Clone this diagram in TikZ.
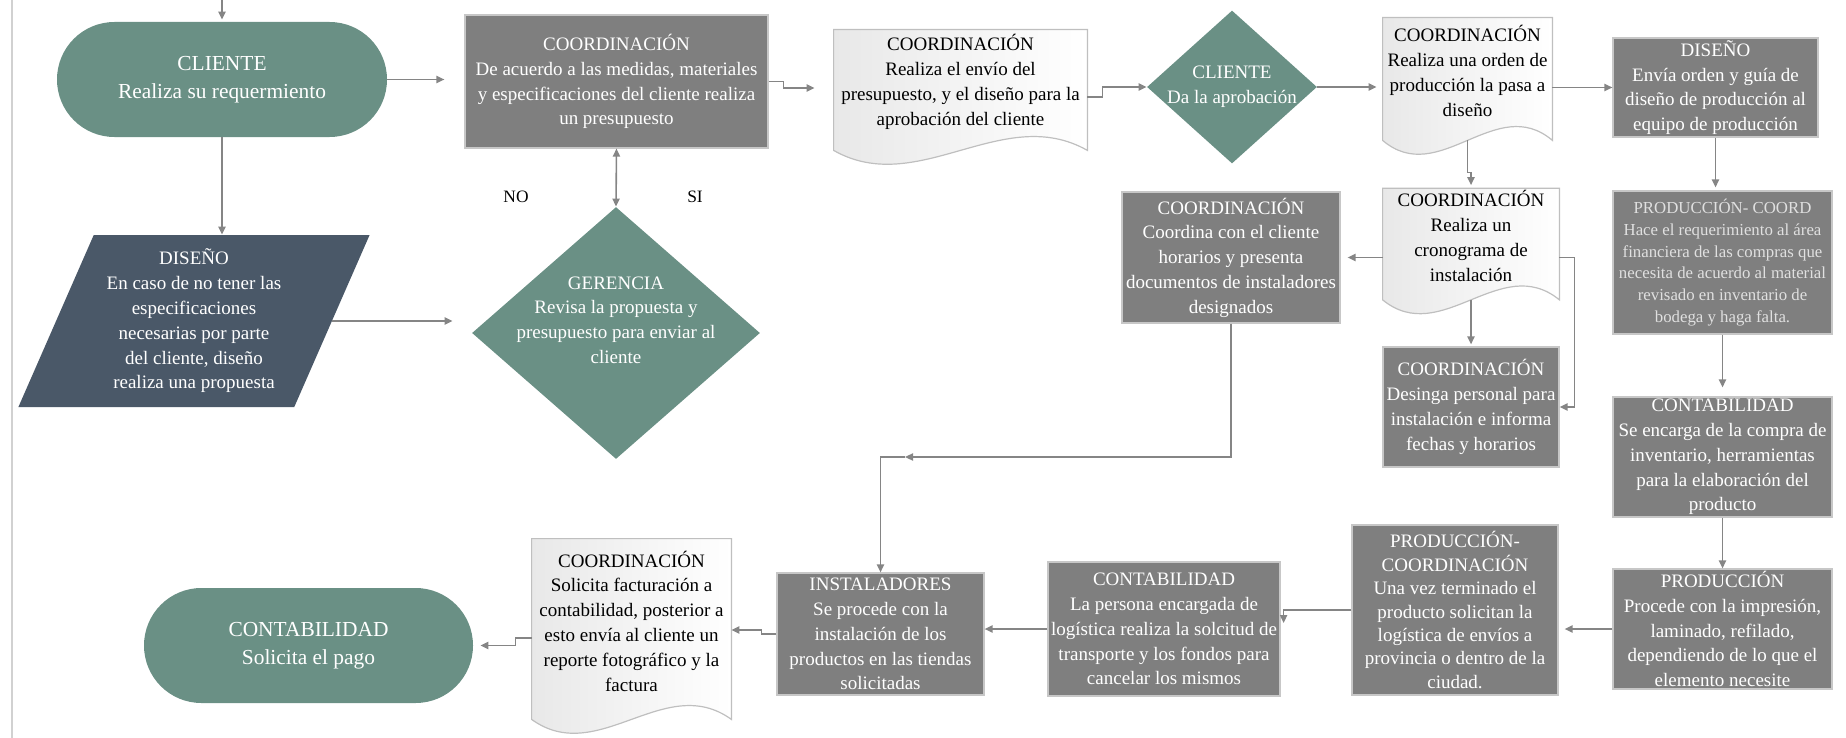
\documentclass[tikz,border=0pt]{standalone}
\usepackage{fontspec}
\setmainfont{Liberation Serif}
\usepackage{tikz}
\usetikzlibrary{positioning, arrows.meta, shapes.geometric, calc, backgrounds}

\definecolor{verde}{HTML}{6A9085}
\definecolor{pizarra}{HTML}{4A5868}
\definecolor{gris}{HTML}{7F7F7F}
\definecolor{linea}{HTML}{858585}

\begin{document}
\begin{tikzpicture}[x=0.5pt, y=-0.5pt,
    txt/.style={font=\fontsize{9.5}{12.4}\selectfont, align=center},
    terminal/.style={rectangle, rounded corners=28.7pt, fill=verde, text=white, align=center,
        font=\fontsize{10.7}{14}\selectfont, minimum width=165pt, minimum height=57.5pt},
    datos/.style={trapezium, trapezium left angle=65.6, trapezium right angle=114.4,
        trapezium stretches=true, fill=pizarra, text=white, txt, inner sep=1pt},
    proceso/.style={rectangle, fill=gris, draw=black!22, line width=0.6pt, text=white, txt, inner sep=0pt},
    decision/.style={diamond, fill=verde, inner sep=0pt},
    dtext/.style={text=white, txt},
    documento/.style={rectangle, txt, inner sep=1pt},
    conn/.style={draw=linea, line width=0.8pt},
    arr/.style={conn, -{Triangle[length=4pt, width=3.6pt]}},
    darr/.style={conn, {Triangle[length=4pt, width=3.6pt]}-{Triangle[length=4pt, width=3.6pt]}},
    lbl/.style={font=\fontsize{8.7}{10}\selectfont}]

    \path[use as bounding box] (0,0) rectangle (1846,738);
    \draw[black!18, line width=0.6pt] (12,0) -- (12,738);

    % fila superior
    \node[terminal] (cli) at (222,79.5) {CLIENTE\\Realiza su requermiento};
    \node[datos, minimum width=176pt, minimum height=86pt] (dis) at (194,321) {DISEÑO\\En caso de no tener las\\especificaciones\\necesarias por parte\\del cliente, diseño\\realiza una propuesta};
    \node[proceso, minimum width=151.5pt, minimum height=66.5pt] (coo1) at (616.5,81.5) {COORDINACIÓN\\De acuerdo a las medidas, materiales\\y especificaciones del cliente realiza\\un presupuesto};
    \node[decision, minimum width=144pt, minimum height=126pt,
        label={[dtext, yshift=6.5pt]center:{GERENCIA\\Revisa la propuesta y\\presupuesto para enviar al\\cliente}}] (ger) at (616,333) {};
    \node[lbl] (no) at (516,197) {NO};
    \node[lbl] (si) at (695,197) {SI};
    \node[documento, minimum width=126.5pt, minimum height=52pt] (doc2) at (960.5,82) {COORDINACIÓN\\Realiza el envío del\\presupuesto, y el diseño para la\\aprobación del cliente};
    \node[decision, minimum width=85pt, minimum height=76.5pt,
        label={[dtext]center:{CLIENTE\\Da la aprobación}}] (cdia) at (1232,87) {};
    \node[documento, minimum width=84.5pt, minimum height=53pt] (doc3) at (1467.5,71) {COORDINACIÓN\\Realiza una orden de\\producción la pasa a\\diseño};
    \node[proceso, minimum width=102.5pt, minimum height=49.5pt] (dis2) at (1715.5,87.5) {DISEÑO\\Envía orden y guía de\\diseño de producción al\\equipo de producción};

    % columna derecha
    \node[proceso, minimum width=109.5pt, minimum height=71.5pt, font=\fontsize{8.4}{10.9}\selectfont, text=black!12] (prc) at (1722.5,262.5) {PRODUCCIÓN- COORD\\Hace el requerimiento al área\\financiera de las compras que\\necesita de acuerdo al material\\revisado en inventario de\\bodega y haga falta.};
    \node[proceso, minimum width=109.5pt, minimum height=60pt, on grid, below=97.25pt of prc] (ct2) {CONTABILIDAD\\Se encarga de la compra de\\inventario, herramientas\\para la elaboración del\\producto};
    \node[proceso, minimum width=109.5pt, minimum height=60pt, on grid, below=86pt of ct2] (prod) {PRODUCCIÓN\\Procede con la impresión,\\laminado, refilado,\\dependiendo de lo que el\\elemento necesite};

    % centro
    \node[documento, minimum width=88pt, minimum height=45pt] (crono) at (1471,236) {COORDINACIÓN\\Realiza un\\cronograma de\\instalación};
    \node[proceso, minimum width=109pt, minimum height=65.5pt] (coo5) at (1231,257.5) {COORDINACIÓN\\Coordina con el cliente\\horarios y presenta\\documentos de instaladores\\designados};
    \node[proceso, minimum width=88pt, minimum height=60pt, on grid, below=85.5pt of crono] (coo6) {COORDINACIÓN\\Desinga personal para\\instalación e informa\\fechas y horarios};

    % fila inferior
    \node[proceso, minimum width=103pt, minimum height=85pt, font=\fontsize{9.5}{11.7}\selectfont] (pc2) at (1455,610) {PRODUCCIÓN-\\COORDINACIÓN\\Una vez terminado el\\producto solicitan la\\logística de envíos a\\provincia o dentro de la\\ciudad.};
    \node[proceso, minimum width=116pt, minimum height=67pt] (ct3) at (1164,629) {CONTABILIDAD\\La persona encargada de\\logística realiza la solcitud de\\transporte y los fondos para\\cancelar los mismos};
    \node[proceso, minimum width=103.5pt, minimum height=61pt] (inst) at (880.5,634) {INSTALADORES\\Se procede con la\\instalación de los\\productos en las tiendas\\solicitadas};
    \node[documento, minimum width=99.5pt, minimum height=82pt] (doc7) at (631.5,621) {COORDINACIÓN\\Solicita facturación a\\contabilidad, posterior a\\esto envía al cliente un\\reporte fotográfico y la\\factura};
    \node[terminal, minimum width=164.5pt] (ct4) at (308.5,645.5) {CONTABILIDAD\\Solicita el pago};

    % hojas de documento
    \begin{scope}[on background layer]
    \foreach \n in {doc2,doc3,crono,doc7} {
        \coordinate (se) at ([yshift=-8pt]\n.south east);
        \coordinate (sw) at ([yshift=-8pt]\n.south west);
        \draw[draw=black!25, line width=0.6pt, left color=black!9, right color=white]
            (\n.north west) -- (\n.north east) -- (se)
            .. controls ($(se)!0.333!(sw)+(0pt,24pt)$) and ($(se)!0.667!(sw)+(0pt,-24pt)$) .. (sw) -- cycle;
    }
    \end{scope}

    % conectores
    \coordinate (arriba) at (222,0);
    \coordinate (giro) at (905,457);
    \draw[arr, shorten >=1pt] (arriba) -- (cli.north);
    \draw[arr, shorten >=10pt] (cli.east) -- (cli.east -| coo1.west);
    \draw[arr] (cli.south) -- (cli.south |- dis.north);
    \draw[arr, shorten >=9.5pt] (dis.east) -- (dis.east -| ger.west);
    \draw[darr] (coo1.south) -- (ger.north);
    \draw[arr, shorten >=9.5pt] (coo1.east) -- ++(15,0) |- ([yshift=-3pt]doc2.west);
    \draw[arr] ([yshift=-7.5pt]doc2.east) -- ++(15,0) |- (cdia.west);
    \draw[arr, shorten >=3pt] (cdia.east) -- (cdia.east -| doc3.west);
    \draw[arr] (dis2.west -| doc3.east) -- (dis2.west);
    \draw[arr, shorten >=1.5pt] (dis2.south) -- (dis2.south |- prc.north);
    \draw[arr, shorten >=4.5pt] (prc) -- (ct2);
    \draw[arr] (ct2) -- (prod);
    \draw[arr, shorten >=3pt] (prod.west) -- (prod.west -| pc2.east);
    \draw[arr] (pc2.west) -| ([xshift=1.5pt, yshift=3pt]ct3.east);
    \draw[arr] (ct3.west) -- (ct3.west -| inst.east);
    \draw[arr] (inst.west) -- ++(-15,0) |- ([yshift=-4.5pt]doc7.east);
    \draw[arr, shorten >=3.5pt] ([yshift=-8.5pt]doc7.west) -- ++(-16,0) |- (ct4.east);
    \draw[arr, shorten >=1.5pt] ([yshift=-8pt]doc3.south) -- ++(0,32) -| (crono.north);
    \draw[arr, shorten >=3.5pt] (crono.west |- coo5.east) -- (coo5.east);
    \draw[arr] (crono.east |- coo5.east) -- ++(15,0) |- (coo6.east);
    \draw[arr, shorten >=1pt] ([yshift=-8pt]crono.south) -- ++(0,28) -| (coo6.north);
    \draw[arr] (coo5.south) |- (giro);
    \draw[arr] (giro) -| (inst.north);
\end{tikzpicture}
\end{document}
